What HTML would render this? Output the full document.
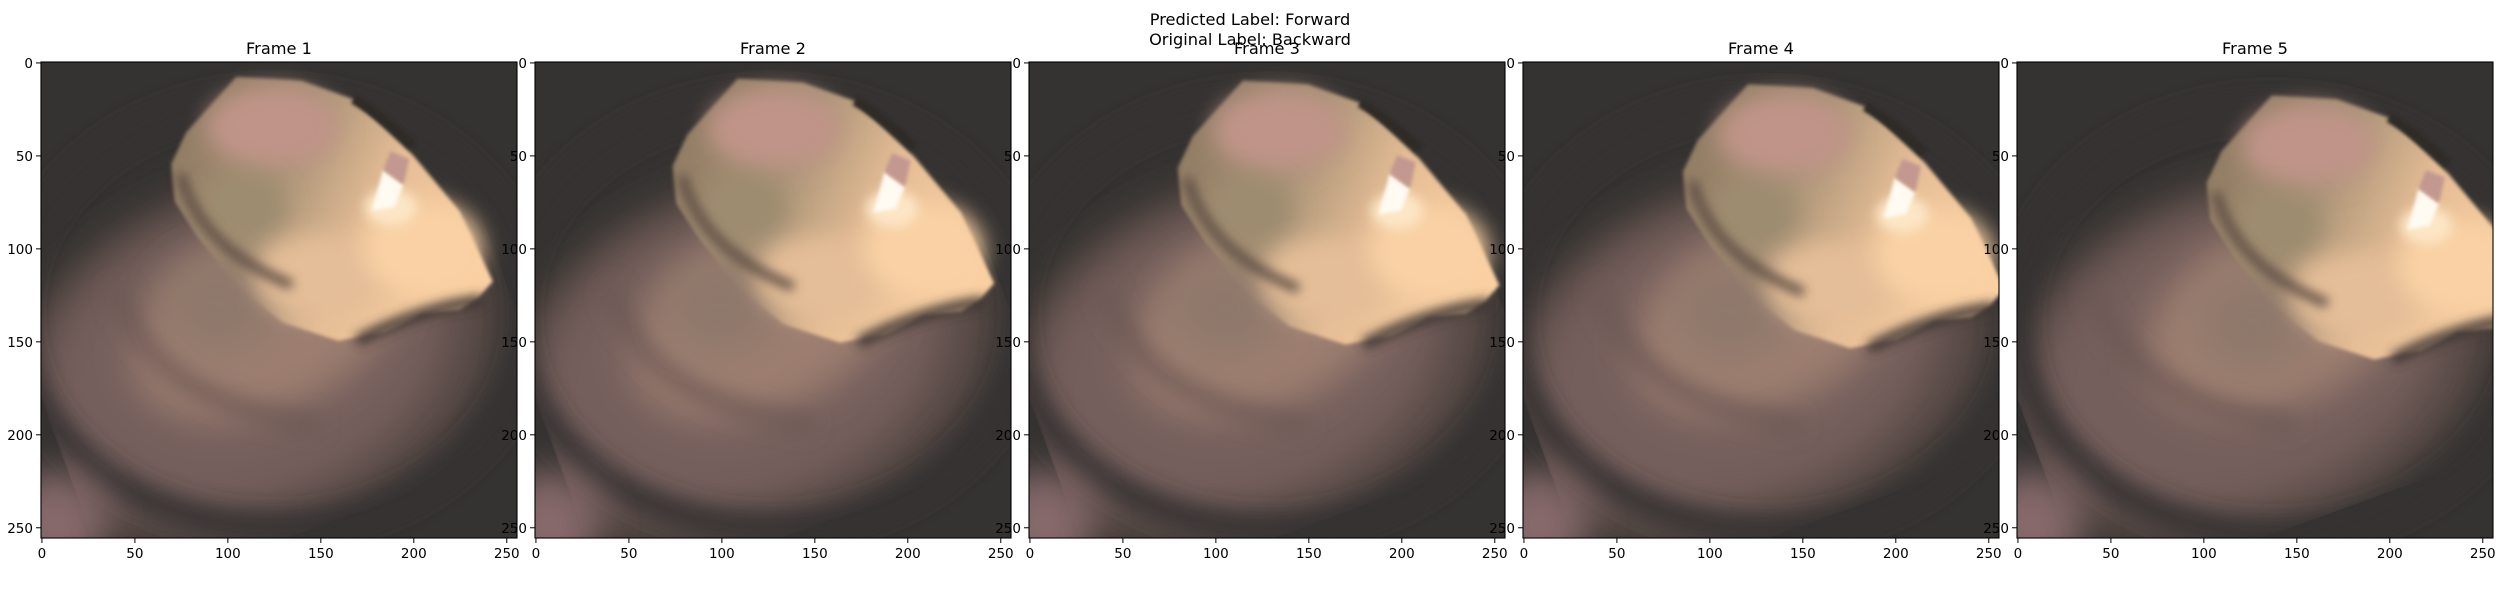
<!DOCTYPE html>
<html><head><meta charset="utf-8">
<style>
html,body{margin:0;padding:0;background:#fff;width:2500px;height:600px;overflow:hidden;}
svg{display:block;}
text{font-family:"DejaVu Sans","Liberation Sans",sans-serif;fill:#000;}
</style></head>
<body>
<svg id="fig" width="2500" height="600" viewBox="0 0 2500 600" xmlns="http://www.w3.org/2000/svg" style="overflow:hidden">
<defs>
  <filter id="b10" filterUnits="userSpaceOnUse" x="0" y="0" width="256" height="256"><feGaussianBlur stdDeviation="10" edgeMode="duplicate"/></filter>
  <filter id="b6" filterUnits="userSpaceOnUse" x="0" y="0" width="256" height="256"><feGaussianBlur stdDeviation="6" edgeMode="duplicate"/></filter>
  <filter id="b3" filterUnits="userSpaceOnUse" x="0" y="0" width="256" height="256"><feGaussianBlur stdDeviation="3"/></filter>
  <filter id="b1" filterUnits="userSpaceOnUse" x="0" y="0" width="256" height="256"><feGaussianBlur stdDeviation="1"/></filter>
  <linearGradient id="lum" x1="0" y1="0.2" x2="1" y2="0.6">
    <stop offset="0" stop-color="#8e7a62"/>
    <stop offset="0.35" stop-color="#a89276"/>
    <stop offset="0.65" stop-color="#e5bd96"/>
    <stop offset="1" stop-color="#fad0a2"/>
  </linearGradient>
</defs>
<text x="1250" y="25" text-anchor="middle" font-size="16.2">Predicted Label: Forward</text>
<text x="1250" y="45" text-anchor="middle" font-size="16.2">Original Label: Backward</text>
<g id="panels"></g>
</svg>
<script>
const frameTitles = ["Frame 1","Frame 2","Frame 3","Frame 4","Frame 5"];
const lumenShiftX = [0, 4, 10, 16, 32];
const lumenShiftY = [0, 1, 2, 4, 10];
const tickValues = [0, 50, 100, 150, 200, 250];
const tickLabels = ["0","50","100","150","200","250"];

const NS = "http://www.w3.org/2000/svg";
const AX_LEFT0 = 41, AX_STEP = 494, AX_TOP = 62, AX_SIZE = 476, IMG_N = 256;
const panels = document.getElementById("panels");
function el(tag, attrs, parent){
  const e = document.createElementNS(NS, tag);
  for (const k in attrs) e.setAttribute(k, attrs[k]);
  if (parent) parent.appendChild(e);
  return e;
}
function scale(v){ return (v + 0.5) * AX_SIZE / IMG_N; }

frameTitles.forEach((title, i) => {
  const left = AX_LEFT0 + i * AX_STEP;
  const g = el("g", {}, panels);
  
  

  const cp = el("clipPath", {id: "clip" + i}, g);
  el("rect", {x: left, y: AX_TOP, width: AX_SIZE, height: AX_SIZE}, cp);

  const img = el("g", {"clip-path": "url(#clip" + i + ")"}, g);
  
  
  const s = AX_SIZE / IMG_N;
  const inner = el("g", {transform: "translate(" + left + "," + AX_TOP + ") scale(" + s + ")"}, img);
  const dx = lumenShiftX[i], dy = lumenShiftY[i];

  el("rect", {x: 0, y: 0, width: 256, height: 256, fill: "#353331"}, inner);
  el("ellipse", {cx: 115 + dx*0.3, cy: 160 + dy*0.3, rx: 135, ry: 95, fill: "#5a4b47", filter: "url(#b10)", transform: "rotate(-20 115 160)"}, inner);
  el("ellipse", {cx: 110 + dx*0.3, cy: 158 + dy*0.3, rx: 112, ry: 78, fill: "#745f5b", filter: "url(#b10)", transform: "rotate(-20 110 158)"}, inner);
  el("ellipse", {cx: 125 + dx*0.4, cy: 135 + dy*0.4, rx: 138, ry: 115, fill: "none", stroke: "#363231", "stroke-width": 14, filter: "url(#b6)"}, inner);
  el("ellipse", {cx: 8, cy: 248, rx: 28, ry: 28, fill: "#86696a", filter: "url(#b10)"}, inner);
  el("ellipse", {cx: 120 + dx*0.6, cy: 140 + dy*0.6, rx: 75, ry: 48, fill: "#9c7e70", filter: "url(#b10)", transform: "rotate(-25 120 140)"}, inner);
  el("path", {d: "M40,120 Q60,185 150,195", fill: "none", stroke: "#6a5652", "stroke-width": 8, filter: "url(#b6)"}, inner);
  const lg = el("g", {transform: "translate(" + dx + "," + dy + ")"}, inner);
  el("polygon", {points: "105,8 140,10 168,20 200,50 225,80 243,118 235,127 225,133 205,135 185,145 160,150 130,140 105,120 85,95 72,75 70,55 78,38", fill: "url(#lum)", filter: "url(#b1)"}, lg);
  el("ellipse", {cx: 95, cy: 130, rx: 30, ry: 25, fill: "#8e786a", filter: "url(#b10)"}, lg);
  el("ellipse", {cx: 125, cy: 35, rx: 36, ry: 22, fill: "#c09488", filter: "url(#b6)"}, lg);
  el("ellipse", {cx: 110, cy: 78, rx: 22, ry: 18, fill: "#9e8c70", filter: "url(#b6)"}, lg);
  el("ellipse", {cx: 150, cy: 115, rx: 35, ry: 22, fill: "#e4be98", filter: "url(#b6)"}, lg);
  el("ellipse", {cx: 205, cy: 100, rx: 32, ry: 25, fill: "#f9d1a4", filter: "url(#b6)"}, lg);
  el("path", {d: "M75,60 Q85,100 135,120", fill: "none", stroke: "#5c4c42", "stroke-width": 5, filter: "url(#b3)"}, lg);
  el("path", {d: "M168,20 Q185,30 200,45", fill: "none", stroke: "#2e2a28", "stroke-width": 5, filter: "url(#b1)"}, lg);
  el("path", {d: "M170,150 Q205,132 238,128", fill: "none", stroke: "#3e3430", "stroke-width": 6, filter: "url(#b3)"}, lg);
  el("ellipse", {cx: 188, cy: 78, rx: 14, ry: 10, fill: "#fde6c6", filter: "url(#b3)"}, lg);
  el("polygon", {points: "184,58 195,66 190,78 178,80", fill: "#fffaf2", filter: "url(#b1)"}, lg);
  el("polygon", {points: "188,48 198,52 195,66 184,58", fill: "#c29890", filter: "url(#b1)"}, lg);

  const frame = el("rect", {x: left, y: AX_TOP, width: AX_SIZE, height: AX_SIZE, fill: "none", stroke: "#000", "stroke-width": 1.1}, g);
  
  

  const t = el("text", {x: left + AX_SIZE/2, y: 54, "text-anchor": "middle", "font-size": "16.2"}, g);
  t.textContent = title;
  
  

  tickValues.forEach((v, k) => {
    const px = left + scale(v);
    el("line", {x1: px, y1: AX_TOP + AX_SIZE, x2: px, y2: AX_TOP + AX_SIZE + 5, stroke: "#000", "stroke-width": 1}, g);
    const xt = el("text", {x: px, y: 558, "text-anchor": "middle", "font-size": "13.5"}, g);
    xt.textContent = tickLabels[k];
    
    
    const py = AX_TOP + scale(v);
    el("line", {x1: left - 5, y1: py, x2: left, y2: py, stroke: "#000", "stroke-width": 1}, g);
    const yt = el("text", {x: left - 8, y: py + 5, "text-anchor": "end", "font-size": "13.5"}, g);
    yt.textContent = tickLabels[k];
    
    
  });
});
</script>
</body></html>
